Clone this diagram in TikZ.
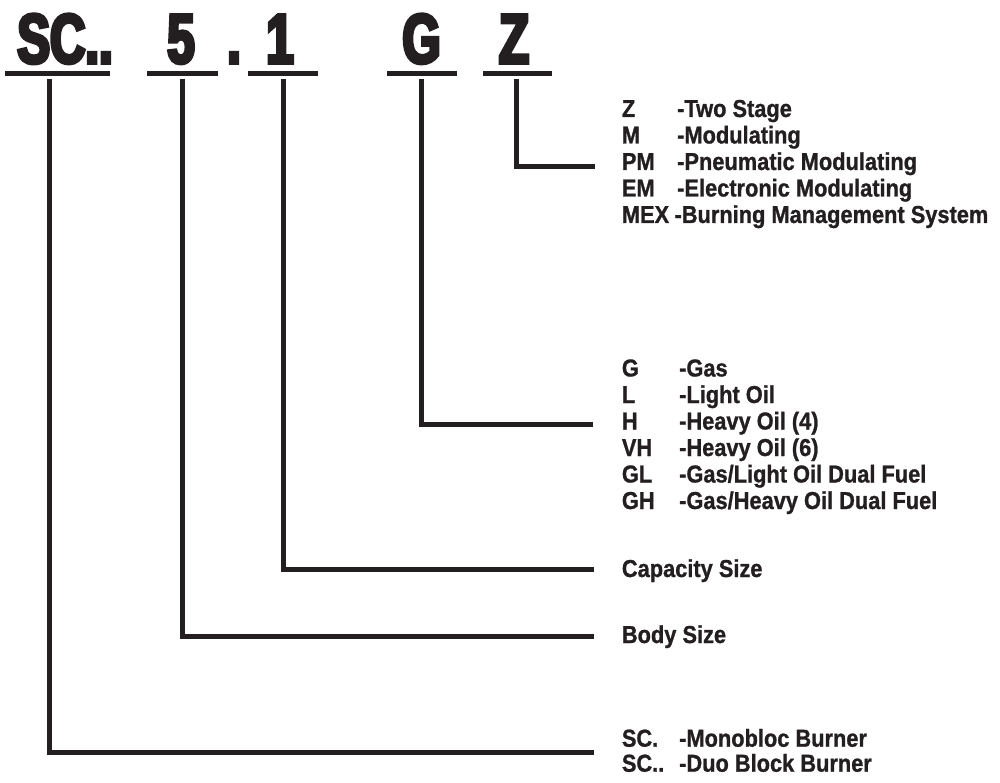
\documentclass[tikz,border=0pt]{standalone}
\usepackage{fontspec}
\newfontfamily\lblfont{Liberation Sans Bold}[FakeStretch=0.89,FakeBold=1]
\newfontfamily\bigfont{Liberation Sans Bold}[FakeStretch=0.7,FakeBold=5]
\definecolor{ink}{HTML}{231F20}
\begin{document}
\begin{tikzpicture}[x=1pt,y=-1pt,
  lbl/.style={anchor=base west,inner sep=0pt,text=ink,font=\lblfont\fontsize{24.5}{29}\selectfont},
  big/.style={anchor=base,inner sep=0pt,text=ink,font=\bigfont\fontsize{70}{80}\selectfont},
  bar/.style={line width=5pt,draw=ink},
  conn/.style={line width=5pt,draw=ink,line join=miter}]
\useasboundingbox (0,0) rectangle (1000,783);

% code letters
\node[big] (sc)   at (65,63)    {SC..};
\node[big] (five) at (181,63)   {5};
\node[big] (dot)  at (234,63)   {.};
\node[big] (one)  at (280,63)   {1};
\node[big] (g)    at (421.5,63) {G};
\node[big] (z)    at (514,63)   {Z};

% underlines
\draw[bar] (5,74) -- (110,74);
\draw[bar] (147,74) -- (218,74);
\draw[bar] (248,74) -- (318,74);
\draw[bar] (387,74) -- (457,74);
\draw[bar] (483,74) -- (552,74);

% Z group
\node[lbl] (zk1) at (621.7,117) {Z};
\node[lbl] (zd1) at (677,117)   {-Two Stage};
\node[lbl] (zk2) at (621.7,143.5) {M};
\node[lbl] (zd2) at (677,143.5)   {-Modulating};
\node[lbl] (zk3) at (621.7,170) {PM};
\node[lbl] (zd3) at (677,170)   {-Pneumatic Modulating};
\node[lbl] (zk4) at (621.7,196.5) {EM};
\node[lbl] (zd4) at (677,196.5)   {-Electronic Modulating};
\node[lbl] (zk5) at (621.7,223) {MEX};
\node[lbl] (zd5) at ([xshift=5pt]zk5.base east) {-Burning Management System};

% G group
\node[lbl] (gk1) at (621.7,376.5) {G};
\node[lbl] (gd1) at (679,376.5)   {-Gas};
\node[lbl] (gk2) at (621.7,403)   {L};
\node[lbl] (gd2) at (679,403)     {-Light Oil};
\node[lbl] (gk3) at (621.7,429.5) {H};
\node[lbl] (gd3) at (679,429.5)   {-Heavy Oil (4)};
\node[lbl] (gk4) at (621.7,456)   {VH};
\node[lbl] (gd4) at (679,456)     {-Heavy Oil (6)};
\node[lbl] (gk5) at (621.7,482.5) {GL};
\node[lbl] (gd5) at (679,482.5)   {-Gas/Light Oil Dual Fuel};
\node[lbl] (gk6) at (621.7,509)   {GH};
\node[lbl] (gd6) at (679,509)     {-Gas/Heavy Oil Dual Fuel};

% size labels
\node[lbl] (cap)  at (621.7,577) {Capacity Size};
\node[lbl] (body) at (621.7,643) {Body Size};

% SC group
\node[lbl] (sk1) at (621.7,746.7) {SC.};
\node[lbl] (sd1) at (679,746.7)   {-Monobloc Burner};
\node[lbl] (sk2) at (621.7,771.7) {SC..};
\node[lbl] (sd2) at (679,771.7)   {-Duo Block Burner};

% connectors
\coordinate (zTop)  at (516.5,79);
\coordinate (zEnd)  at (595,167);
\coordinate (gTop)  at (421.5,79);
\coordinate (gEnd)  at (593,424);
\coordinate (oTop)  at (283.5,79);
\coordinate (oEnd)  at (594,569);
\coordinate (fTop)  at (182.5,79);
\coordinate (fEnd)  at (594,636);
\coordinate (sTop)  at (49.5,79);
\coordinate (sEnd)  at (594,752);
\draw[conn] (zTop) |- (zEnd);
\draw[conn] (gTop) |- (gEnd);
\draw[conn] (oTop) |- (oEnd);
\draw[conn] (fTop) |- (fEnd);
\draw[conn] (sTop) |- (sEnd);
\end{tikzpicture}
\end{document}
